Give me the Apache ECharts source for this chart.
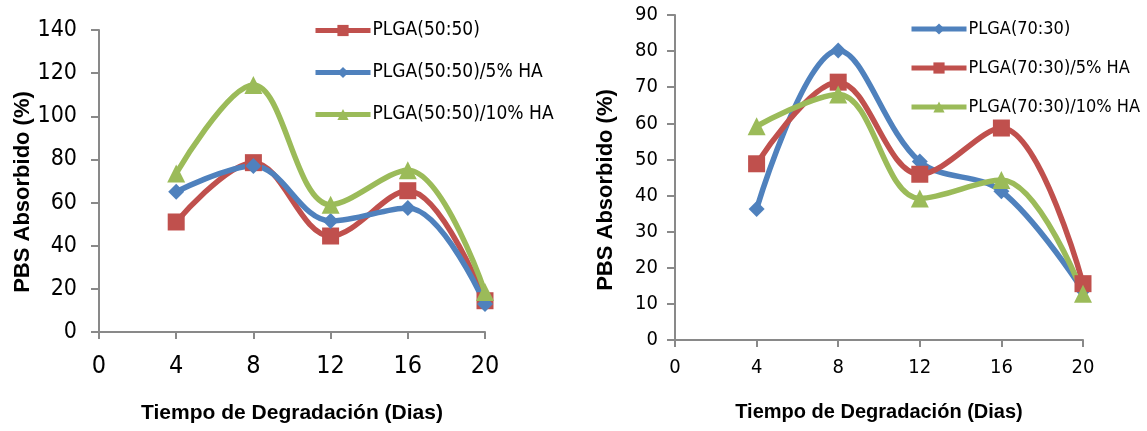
<!DOCTYPE html>
<html>
<head>
<meta charset="utf-8">
<script src="https://cdn.jsdelivr.net/npm/echarts@6/dist/echarts.min.js"></script>
<style>
html,body{margin:0;padding:0;background:#fff;}
#c{width:1147px;height:431px;}
</style>
</head>
<body>
<div id="c"></div>
<script>
// ---- Data ----
const days = [4, 8, 12, 16, 20];
const xTicks = [0, 4, 8, 12, 16, 20];

// Left chart: PLGA(50:50)
const leftNames = ['PLGA(50:50)', 'PLGA(50:50)/5% HA', 'PLGA(50:50)/10% HA'];
const left_PLGA5050 = [51, 78.5, 44.5, 65.5, 14.5];
const left_PLGA5050_5HA = [65, 77, 51.5, 57.5, 13];
const left_PLGA5050_10HA = [73.5, 114.5, 59, 75, 18.5];

// Right chart: PLGA(70:30)
const rightNames = ['PLGA(70:30)', 'PLGA(70:30)/5% HA', 'PLGA(70:30)/10% HA'];
const right_PLGA7030 = [36.3, 80.2, 49.4, 41.2, 13.7];
const right_PLGA7030_5HA = [48.8, 71.4, 45.9, 58.7, 15.6];
const right_PLGA7030_10HA = [59.2, 68, 39.2, 44.3, 12.8];

const yTitle = 'PBS Absorbido (%)';
const xTitle = 'Tiempo de Degradación (Dias)';

// ---- Styles ----
const RED = '#C0504D', BLUE = '#4F81BD', GREEN = '#9BBB59';
const AX = '#898989';
const NARROW = "'DejaVu Sans Condensed', 'Liberation Sans', sans-serif";
const pair = (vals) => days.map((d, i) => [d, vals[i]]);

function mkSeries(name, vals, color, symbol, size, xi) {
  return {
    name: name, type: 'line', xAxisIndex: xi, yAxisIndex: xi,
    data: pair(vals), smooth: 0.36,
    symbol: symbol, symbolSize: size, showSymbol: true,
    lineStyle: { color: color, width: 5.5 },
    itemStyle: { color: color },
    emphasis: { disabled: true }
  };
}

function xAxis(gi, lblSize, margin, nameGap, nameSize) {
  return {
    type: 'value', gridIndex: gi, min: 0, max: 20, interval: 4,
    splitLine: { show: false },
    axisLine: { onZero: false, lineStyle: { color: AX, width: 2 } },
    axisTick: { show: true, length: 7, lineStyle: { color: AX, width: 2 } },
    axisLabel: { color: '#000', fontFamily: NARROW, fontSize: lblSize, margin: margin },
    name: xTitle, nameLocation: 'middle', nameGap: nameGap,
    nameTextStyle: { color: '#000', fontFamily: 'Liberation Sans', fontWeight: 'bold', fontSize: nameSize }
  };
}
function yAxis(gi, max, interval, lblSize, margin, nameGap, shift) {
  return {
    type: 'value', gridIndex: gi, min: 0, max: max, interval: interval,
    splitLine: { show: false },
    axisLine: { show: true, lineStyle: { color: AX, width: 2 } },
    axisTick: { show: true, length: 8, lineStyle: { color: AX, width: 2 } },
    axisLabel: { color: '#000', fontFamily: NARROW, fontSize: lblSize, margin: margin },
    name: yTitle, nameLocation: 'middle', nameGap: nameGap, nameRotate: 90,
    nameTextStyle: { color: '#000', fontFamily: 'Liberation Sans', fontWeight: 'bold', fontSize: 22, padding: [0, shift, 0, 0] }
  };
}
function legend(names, left, top, gap, fs) {
  return {
    data: names, orient: 'vertical', left: left, top: top,
    itemWidth: 55, itemHeight: 14, itemGap: gap,
    lineStyle: { width: 5 },
    textStyle: { color: '#000', fontFamily: NARROW, fontSize: fs, padding: [0, 0, 0, -3] },
    selectedMode: false
  };
}

const chart = echarts.init(document.getElementById('c'), null, { renderer: 'canvas' });
chart.setOption({
  animation: false,
  backgroundColor: '#fff',
  grid: [
    { left: 99, top: 30, width: 386, height: 302 },
    { left: 675, top: 15, width: 408, height: 325 }
  ],
  xAxis: [ xAxis(0, 25, 22, 71, 21), xAxis(1, 20, 18, 62, 20) ],
  yAxis: [ yAxis(0, 140, 20, 23, 22, 64, 22), yAxis(1, 90, 10, 20, 17, 58, 25) ],
  legend: [ legend(leftNames, 308, 16, 23, 19), legend(rightNames, 904, 15, 21, 18) ],
  series: [
    mkSeries(leftNames[0], left_PLGA5050, RED, 'rect', 17, 0),
    mkSeries(leftNames[1], left_PLGA5050_5HA, BLUE, 'diamond', 16, 0),
    mkSeries(leftNames[2], left_PLGA5050_10HA, GREEN, 'triangle', 18, 0),
    mkSeries(rightNames[0], right_PLGA7030, BLUE, 'diamond', 16, 1),
    mkSeries(rightNames[1], right_PLGA7030_5HA, RED, 'rect', 17, 1),
    mkSeries(rightNames[2], right_PLGA7030_10HA, GREEN, 'triangle', 18, 1)
  ]
});
</script>
</body>
</html>
